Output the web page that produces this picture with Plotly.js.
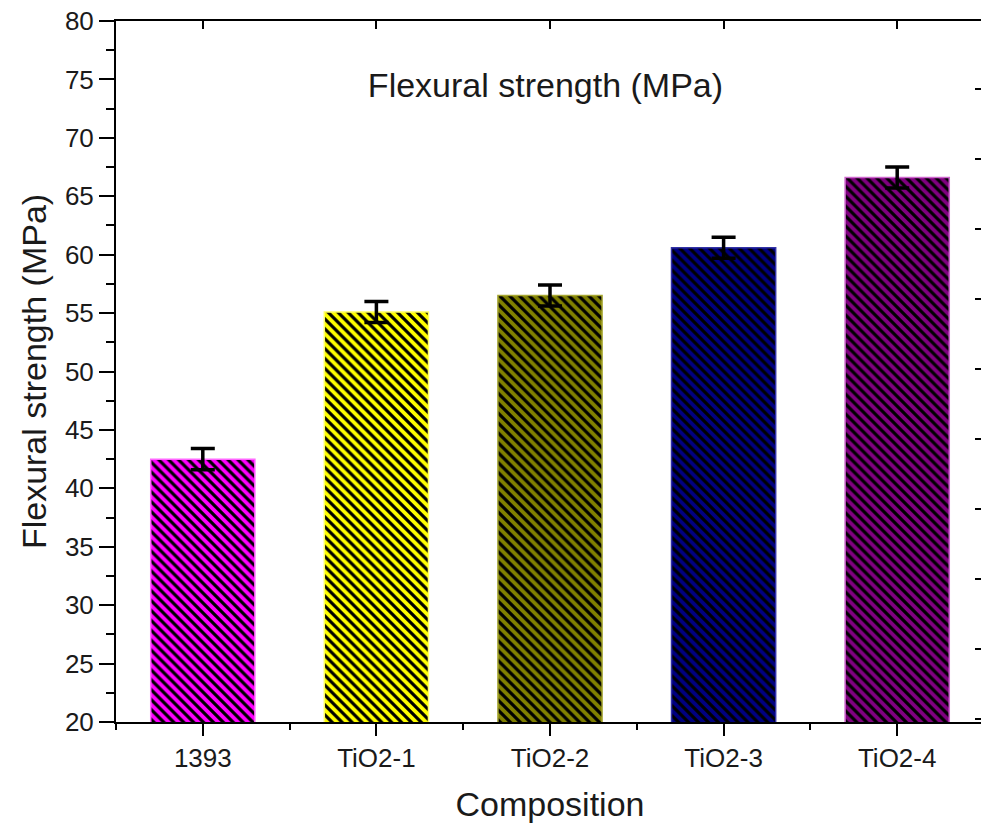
<!DOCTYPE html>
<html>
<head>
<meta charset="utf-8">
<script src="https://cdn.plot.ly/plotly-3.0.1.min.js"></script>
<style>
html,body{margin:0;padding:0;overflow:hidden;background:#fff;}
#chart{width:990px;height:832px;}
</style>
</head>
<body>
<div id="chart"></div>
<script>
// ---- data ----
const categories = ["1393", "TiO2-1", "TiO2-2", "TiO2-3", "TiO2-4"];
const strength = [42.5, 55.1, 56.5, 60.6, 66.6];
const strengthErr = [0.9, 0.9, 0.9, 0.9, 0.9];
const barColors = ["#ff00ff", "#ffff00", "#808000", "#000080", "#800080"];
const edgeColors = ["#ff66ff", "#ffff66", "#a6a633", "#3333a6", "#cc66cc"];
const yTickVals = [20, 25, 30, 35, 40, 45, 50, 55, 60, 65, 70, 75, 80];

const fontFam = "Liberation Sans, Arial, sans-serif";
const txtCol = "#1a1a1a";

// one bar trace per composition so each can carry its own hatch background
const barTraces = categories.map((cat, i) => ({
  type: "bar",
  x: [cat],
  y: [strength[i]],
  width: 0.6,
  marker: {
    color: barColors[i],
    line: {color: edgeColors[i], width: 1.5},
    pattern: {shape: "\\", fgcolor: "#000000", bgcolor: barColors[i], fillmode: "replace", fgopacity: 1, size: 7, solidity: 0.45}
  },
  error_y: {type: "data", array: [strengthErr[i]], visible: true, color: "#000000", thickness: 3.5, width: 12},
  xaxis: "x",
  yaxis: "y",
  showlegend: false,
  hoverinfo: "skip"
}));
// empty helper traces so the extra tick-only axes are rendered
const helperA = {type: "scatter", mode: "markers", x: [], y: [], xaxis: "x2", yaxis: "y", showlegend: false, hoverinfo: "skip"};
const helperB = {type: "scatter", mode: "markers", x: [], y: [], xaxis: "x3", yaxis: "y2", showlegend: false, hoverinfo: "skip"};

const layout = {
  width: 990,
  height: 832,
  margin: {l: 116, r: 6, t: 21, b: 110},
  paper_bgcolor: "#ffffff",
  plot_bgcolor: "#ffffff",
  barmode: "overlay",
  font: {family: fontFam, color: txtCol},
  title: {
    text: "Flexural strength (MPa)",
    font: {size: 34, family: fontFam, color: txtCol},
    x: 0.551, xanchor: "center", xref: "container",
    y: 0.898, yanchor: "middle", yref: "container"
  },
  xaxis: {
    type: "category",
    categoryorder: "array", categoryarray: categories,
    range: [-0.5, 4.5],
    showline: true, linecolor: "#000000", linewidth: 2,
    ticks: "outside", ticklen: 12, tickwidth: 2, tickcolor: "#000000",
    tickfont: {size: 26, family: fontFam, color: txtCol},
    showgrid: false, zeroline: false,
    title: {text: "Composition", font: {size: 34, family: fontFam, color: txtCol}, standoff: 20}
  },
  xaxis2: {
    type: "linear", overlaying: "x", anchor: "y", side: "bottom",
    range: [-0.5, 4.5], tick0: 0.5, dtick: 1,
    ticks: "outside", ticklen: 7, tickwidth: 2, tickcolor: "#000000",
    showticklabels: false, showgrid: false, zeroline: false, showline: false
  },
  xaxis3: {
    type: "linear", overlaying: "x", anchor: "y2", side: "top",
    range: [-0.5, 4.5], tick0: 0, dtick: 1,
    ticks: "inside", ticklen: 8, tickwidth: 2, tickcolor: "#000000",
    showticklabels: false, showgrid: false, zeroline: false,
    showline: true, linecolor: "#000000", linewidth: 2
  },
  yaxis: {
    range: [20, 80],
    tickvals: yTickVals,
    showline: true, linecolor: "#000000", linewidth: 2,
    ticks: "outside", ticklen: 15, tickwidth: 2, tickcolor: "#000000",
    minor: {dtick: 2.5, tick0: 20, ticks: "outside", ticklen: 8, tickwidth: 2, tickcolor: "#000000", showgrid: false},
    tickfont: {size: 26, family: fontFam, color: txtCol},
    showgrid: false, zeroline: false,
    title: {text: "Flexural strength (MPa)", font: {size: 34, family: fontFam, color: txtCol}, standoff: 8}
  },
  yaxis2: {
    overlaying: "y", anchor: "x3", side: "right",
    range: [-0.04, 9.97], tick0: 0, dtick: 1,
    ticks: "inside", ticklen: 9, tickwidth: 2, tickcolor: "#000000",
    showticklabels: false, showgrid: false, zeroline: false, showline: true,
    linecolor: "#000000", linewidth: 2
  }
};

Plotly.newPlot("chart", barTraces.concat([helperA, helperB]), layout, {displayModeBar: false, staticPlot: true});
</script>
</body>
</html>
